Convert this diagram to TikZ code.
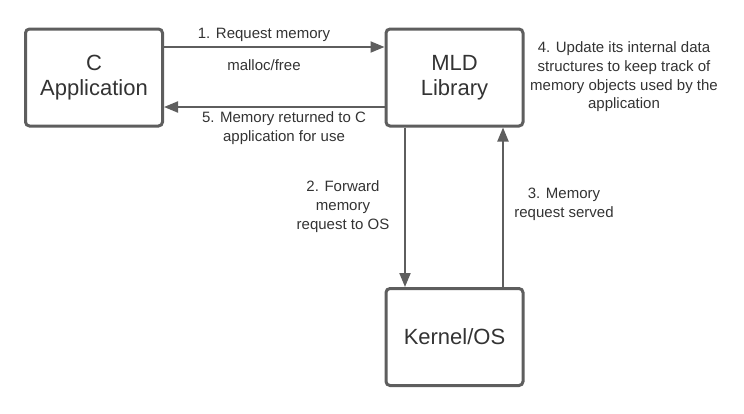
\documentclass[tikz,border=0pt]{standalone}
\usepackage{fontspec}
\setmainfont{Liberation Sans}
\usetikzlibrary{arrows.meta}
\definecolor{edgegray}{HTML}{5E5E5E}
\definecolor{textgray}{HTML}{333333}
\tikzset{
  block/.style={draw=edgegray,line width=3pt,rounded corners=4pt,fill=white,
    minimum width=137pt,minimum height=97pt,align=center,text=textgray,
    font=\fontsize{22}{25.5}\selectfont},
  note/.style={align=center,inner sep=0pt,text=textgray,
    font=\fontsize{15}{18.7}\selectfont},
  conn/.style={draw=edgegray,line width=2pt,-{Triangle[length=14pt,width=11pt]}}
}
\begin{document}
\begin{tikzpicture}[x=1pt,y=-1pt]
	\useasboundingbox (0,0) rectangle (744,413); % keeps the page size
    		\node[block] (CApp)   at (94,77.5)  {C\\Application};
    		\node[block] (MLDLib) at (454.5,77.5) {MLD\\Library};
    		\node[block] (Kernel) at (454.5,337) {Kernel/OS};

    		\draw [conn] ([yshift=30.5pt]CApp.east) -- ([yshift=30.5pt]MLDLib.west);% request
    		\draw [conn] ([yshift=-29.5pt]MLDLib.west) -- ([yshift=-29.5pt]CApp.east);% returned
    		\draw [conn] ([xshift=-49.5pt]MLDLib.south) -- ([xshift=-49.5pt]Kernel.north);% forward
    		\draw [conn] ([xshift=48.5pt]Kernel.north) -- ([xshift=48.5pt]MLDLib.south);% served

    		\node[note] (ReqLabel)    at (264,35)  {1. Request memory};
    		\node[note] (MallocLabel) at (264,65)  {malloc/free};
    		\node[note] (FwdLabel)    at (343,206.5) {2. Forward\\memory\\request to OS};
    		\node[note] (ServLabel)   at (564,204) {3. Memory\\request served};
    		\node[note] (UpdLabel)    at (624,77)  {4. Update its internal data\\structures to keep track of\\memory objects used by the\\application};
    		\node[note] (RetLabel)    at (284,128) {5. Memory returned to C\\application for use};
	\end{tikzpicture}
\end{document}
